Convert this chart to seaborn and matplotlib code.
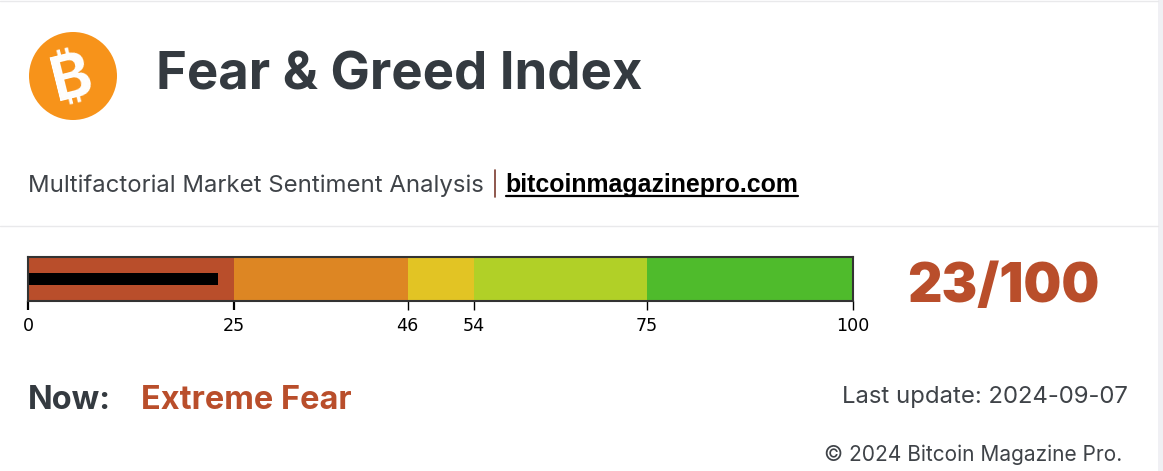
import matplotlib
matplotlib.use('Agg')
import matplotlib.pyplot as plt
from matplotlib.patches import Circle
import seaborn as sns

# Fear & Greed gauge
zone_edges = [0, 25, 46, 54, 75, 100]
zone_colors = ['#B94E2B', '#DD8623', '#E2C424', '#B1D027', '#4FBB2C']
score = 23
score_max = 100

sns.set_theme(style='white')
plt.rcParams['font.family'] = ['Inter', 'DejaVu Sans']

fig = plt.figure(figsize=(11.63, 4.71), dpi=100)
W, H = 1163, 471

# overlay in pixel coordinates for the page furniture
page = fig.add_axes([0, 0, 1, 1])
page.set_xlim(0, W)
page.set_ylim(H, 0)
page.axis('off')

page.plot([0, 1158], [0.5, 0.5], color='#E9E9EB', lw=1)
page.plot([0, 1158], [226, 226], color='#E9E9EB', lw=1)
page.axvspan(1158, 1163, color='#F0F0F4', lw=0)

page.add_patch(Circle((73, 76), 44, color='#F7931A', lw=0))
page.text(72, 71, '\u20bf', color='white', fontsize=44, fontweight='bold', rotation=14,
          ha='center', va='center_baseline',
          family=['Inter', 'Roboto', 'Noto Sans', 'Open Sans', 'Lato', 'DejaVu Sans'])

page.text(156, 90, 'Fear & Greed Index', color='#343A40', fontsize=37.9, fontweight='bold',
          ha='left', va='baseline')
page.text(28, 192, 'Multifactorial Market Sentiment Analysis', color='#3F4348', fontsize=17.25,
          ha='left', va='baseline')
page.plot([495, 495], [170, 197], color='#7B3B2F', lw=1.2)
page.text(505.5, 192, 'bitcoinmagazinepro.com', color='black', fontsize=17.9, fontweight='bold',
          family='Liberation Sans', ha='left', va='baseline')
page.plot([506, 798], [195.5, 195.5], color='black', lw=1.6)

page.text(1003.5, 302, f'{score}/{score_max}', color=zone_colors[0], fontsize=38.4,
          fontweight=900, family='Inter', ha='center', va='baseline')

page.text(28, 409, 'Now:', color='#343A40', fontsize=23.4, fontweight='bold', ha='left', va='baseline')
page.text(141, 409, 'Extreme Fear', color=zone_colors[0], fontsize=23.4, fontweight='bold',
          ha='left', va='baseline')
page.text(1128, 403, 'Last update: 2024-09-07', color='#3F4348', fontsize=17.2, ha='right', va='baseline')
page.text(1122, 461, '\u00a9 2024 Bitcoin Magazine Pro.', color='#3F4348', fontsize=15.05,
          ha='right', va='baseline')

# the bullet bar itself
ax = fig.add_axes([28 / W, 1 - 301 / H, 825 / W, 44 / H])
for start, end, color in zip(zone_edges[:-1], zone_edges[1:], zone_colors):
    sns.barplot(x=[end - start], y=[0], left=start, color=color, orient='h', width=1,
                saturation=1, ax=ax, linewidth=0)
sns.barplot(x=[score], y=[0], color='black', orient='h', width=0.27, saturation=1, ax=ax, linewidth=0)

ax.set_xlim(0, score_max)
ax.set_ylim(0.5, -0.5)
ax.set_yticks([])
ax.set_ylabel('')
ax.set_xticks(zone_edges)
ax.set_xticklabels(zone_edges, family='DejaVu Sans', fontsize=12.6, color='black')
ax.tick_params(axis='x', length=6.5, width=1, color='black', pad=5, bottom=True)
for tick in ax.xaxis.get_major_ticks()[:2]:
    tick.tick1line.set_markeredgewidth(1.6)
for spine in ax.spines.values():
    spine.set_visible(True)
    spine.set_color('#333333')
    spine.set_linewidth(1.5)

fig.savefig('out.png', dpi=100)
